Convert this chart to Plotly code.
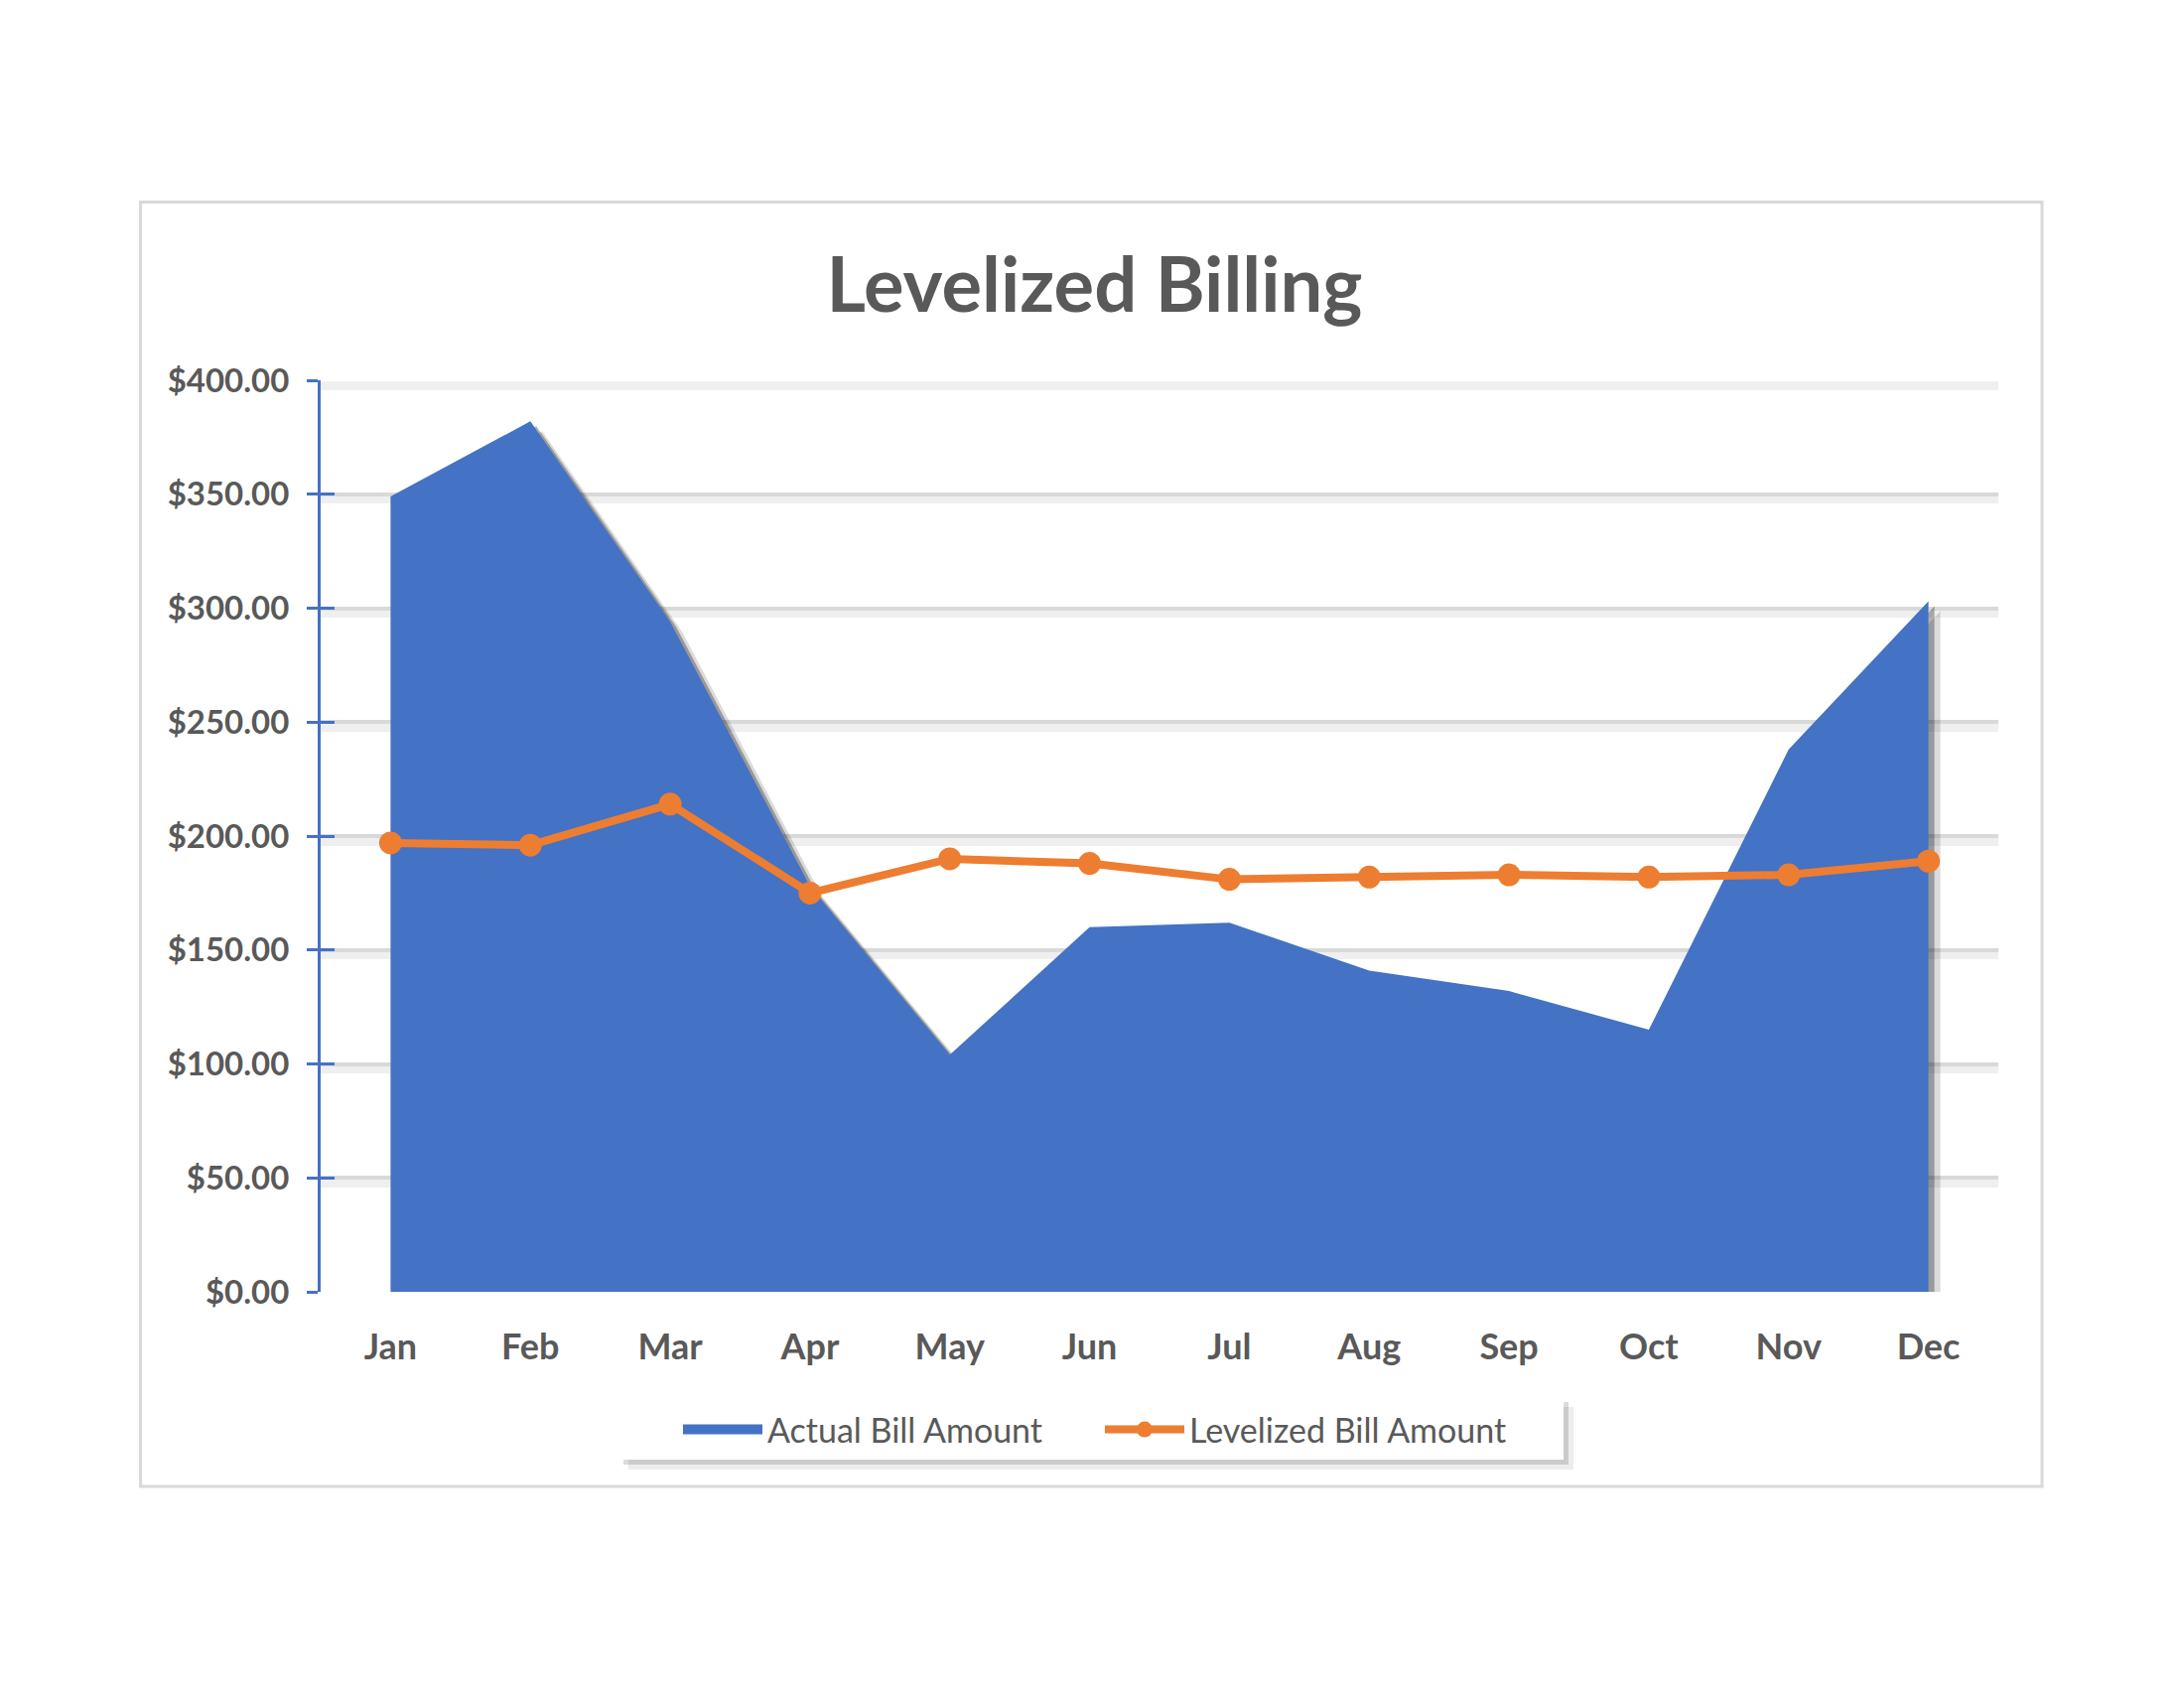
import plotly.graph_objects as go

# ---------------- data ----------------
months = ["Jan", "Feb", "Mar", "Apr", "May", "Jun",
          "Jul", "Aug", "Sep", "Oct", "Nov", "Dec"]
actual_bill = [349, 382, 294, 178, 104, 160, 162, 141, 132, 115, 238, 303]
levelized_bill = [197, 196, 214, 175, 190, 188, 181, 182, 183, 182, 183, 189]
y_max = 400
y_step = 50

# ---------------- geometry / style ----------------
W, H = 2200, 1700
ML, MR, MT, MB = 323, 187, 383, 399
PW, PH = W - ML - MR, H - MT - MB


def px(x):
    return (x - ML) / PW


def py(y):
    return (H - MB - y) / PH


BLUE = "#4472C4"
ORANGE = "#ED7D31"
TXT = "#595959"
GRID = "#D9D9D9"
FONT = "Lato"

n = len(months)
x_range = [-0.5, n - 0.5]
y_range = [0, y_max]
cat_px = PW / n
val_px = PH / (y_range[1] - y_range[0])


def shifted(dx, dy):
    """axis ranges that draw the same data dx px right and dy px down"""
    return ([x_range[0] - dx / cat_px, x_range[1] - dx / cat_px],
            [y_range[0] + dy / val_px, y_range[1] + dy / val_px])


x_far, y_far = shifted(12, 10)
x_near, y_near = shifted(6, 5)

fig = go.Figure()

# soft drop shadow of the area (two layers)
fig.add_trace(go.Scatter(
    x=months, y=actual_bill, xaxis="x", yaxis="y",
    fill="tozeroy", mode="none", fillcolor="rgba(0,0,0,0.14)",
    showlegend=False, hoverinfo="skip"))
fig.add_trace(go.Scatter(
    x=months, y=actual_bill, xaxis="x2", yaxis="y2",
    fill="tozeroy", mode="none", fillcolor="rgba(0,0,0,0.30)",
    showlegend=False, hoverinfo="skip"))

# actual bill area
fig.add_trace(go.Scatter(
    x=months, y=actual_bill, xaxis="x3", yaxis="y3",
    fill="tozeroy", mode="none", fillcolor=BLUE,
    name="Actual Bill Amount", showlegend=False))

# levelized line
fig.add_trace(go.Scatter(
    x=months, y=levelized_bill, xaxis="x3", yaxis="y3",
    mode="lines+markers", line=dict(color=ORANGE, width=8),
    marker=dict(color=ORANGE, size=23),
    name="Levelized Bill Amount", legendrank=2))

# legend entry for the area
fig.add_trace(go.Scatter(
    x=[None], y=[None], xaxis="x4", yaxis="y4",
    mode="lines", line=dict(color=BLUE, width=20),
    name="Actual Bill Amount", hoverinfo="skip", legendrank=1))

tick_font_y = dict(family=FONT, size=33, color=TXT, weight="bold")
tick_font_x = dict(family=FONT, size=36, color=TXT, weight="bold")
cat = dict(type="category", categoryorder="array", categoryarray=months)

fig.update_layout(
    width=W, height=H,
    margin=dict(l=ML, r=MR, t=MT, b=MB, pad=0),
    paper_bgcolor="white", plot_bgcolor="white",
    font=dict(family=FONT, color=TXT),
    title=dict(text="Levelized Billing", x=px(1102.5), xref="paper",
               xanchor="center", y=1 - 287 / H, yref="container",
               yanchor="middle",
               font=dict(family=FONT, size=76, color=TXT, weight="bold")),
    # far shadow layer
    xaxis=dict(**cat, range=x_far, visible=False),
    yaxis=dict(range=y_far, visible=False),
    # near shadow layer + gridline shadows
    xaxis2=dict(**cat, range=x_near, overlaying="x", anchor="y2",
                visible=False),
    yaxis2=dict(range=y_near, overlaying="y", anchor="x2",
                tickmode="linear", tick0=0, dtick=y_step,
                showgrid=True, gridcolor="#EFEFEF", gridwidth=9,
                showticklabels=False, ticks="", showline=False,
                zeroline=False),
    # main axes
    xaxis3=dict(**cat, range=x_range, overlaying="x", anchor="y3",
                showgrid=False, showline=False, zeroline=False, ticks="",
                tickfont=tick_font_x, ticklabelstandoff=31),
    yaxis3=dict(range=y_range, tickmode="linear", tick0=0, dtick=y_step,
                tickformat="$,.2f", overlaying="y", anchor="x3",
                showgrid=True, gridcolor=GRID, gridwidth=4,
                zeroline=False, showline=True, linecolor=BLUE, linewidth=3,
                ticks="outside", ticklen=11, tickwidth=3, tickcolor=BLUE,
                tickfont=tick_font_y, ticklabelstandoff=11),
    # crossing-tick helper axes
    xaxis4=dict(**cat, range=x_range, overlaying="x", anchor="y4",
                visible=False),
    yaxis4=dict(range=y_range, tickmode="linear", tick0=0, dtick=y_step,
                overlaying="y", anchor="x4",
                showgrid=False, zeroline=False, showline=False,
                showticklabels=False, ticks="inside", ticklen=14,
                tickwidth=3, tickcolor=BLUE),
    legend=dict(orientation="h", x=px(683), xanchor="left",
                y=py(1411), yanchor="top", bgcolor="rgba(0,0,0,0)",
                borderwidth=0, itemwidth=80, traceorder="normal",
                entrywidth=330, entrywidthmode="pixels",
                font=dict(family=FONT, size=34, color=TXT)),
    shapes=[
        # outer chart border
        dict(type="rect", xref="paper", yref="paper",
             x0=px(141.5), x1=px(2057), y0=py(1497), y1=py(203.5),
             line=dict(color=GRID, width=3), fillcolor="rgba(0,0,0,0)",
             layer="below"),
        # legend box soft shadow and box
        dict(type="rect", xref="paper", yref="paper",
             x0=px(633), x1=px(1585), y0=py(1480), y1=py(1417),
             line=dict(width=0), fillcolor="rgba(0,0,0,0.07)"),
        dict(type="rect", xref="paper", yref="paper",
             x0=px(628), x1=px(1580), y0=py(1475), y1=py(1412),
             line=dict(width=0), fillcolor="rgba(0,0,0,0.14)"),
        dict(type="rect", xref="paper", yref="paper",
             x0=px(623), x1=px(1575), y0=py(1470), y1=py(1407),
             line=dict(width=0), fillcolor="white"),
    ],
    hovermode=False,
)

fig.write_html("out.html")
